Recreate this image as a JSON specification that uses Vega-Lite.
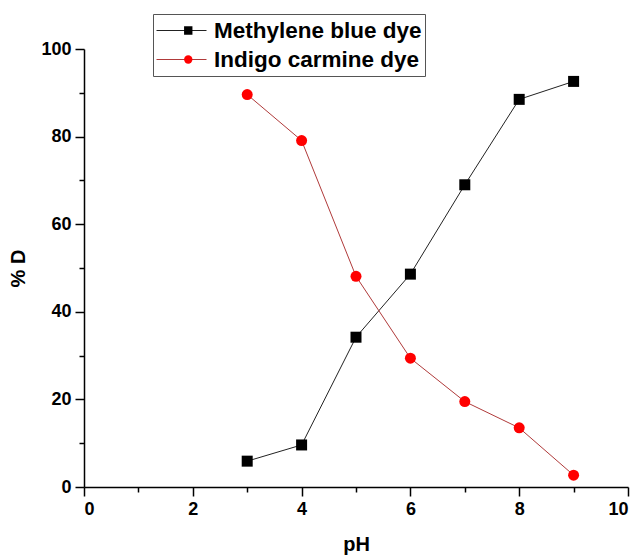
{
  "$schema": "https://vega.github.io/schema/vega-lite/v6.json",
  "width": 544,
  "height": 438,
  "autosize": {"type": "none"},
  "padding": {"left": 84, "top": 49, "right": 12, "bottom": 69},
  "background": "white",
  "config": {
    "font": "Liberation Sans",
    "view": {"stroke": null}
  },
  "data": {
    "values": [
      {"pH": 3, "D": 5.9, "dye": "Methylene blue dye"},
      {"pH": 4, "D": 9.6, "dye": "Methylene blue dye"},
      {"pH": 5, "D": 34.2, "dye": "Methylene blue dye"},
      {"pH": 6, "D": 48.6, "dye": "Methylene blue dye"},
      {"pH": 7, "D": 69.0, "dye": "Methylene blue dye"},
      {"pH": 8, "D": 88.5, "dye": "Methylene blue dye"},
      {"pH": 9, "D": 92.6, "dye": "Methylene blue dye"},
      {"pH": 3, "D": 89.6, "dye": "Indigo carmine dye"},
      {"pH": 4, "D": 79.1, "dye": "Indigo carmine dye"},
      {"pH": 5, "D": 48.1, "dye": "Indigo carmine dye"},
      {"pH": 6, "D": 29.4, "dye": "Indigo carmine dye"},
      {"pH": 7, "D": 19.5, "dye": "Indigo carmine dye"},
      {"pH": 8, "D": 13.5, "dye": "Indigo carmine dye"},
      {"pH": 9, "D": 2.7, "dye": "Indigo carmine dye"}
    ]
  },
  "encoding": {
    "x": {
      "field": "pH", "type": "quantitative",
      "scale": {"domain": [0, 10], "nice": false},
      "axis": {
        "title": "pH", "titleFontSize": 20, "titleFontWeight": "bold", "titleColor": "black", "titlePadding": 16,
        "values": [0,1,2,3,4,5,6,7,8,9,10],
        "labelExpr": "datum.value % 2 == 0 ? datum.label : ''",
        "labelFontSize": 18, "labelFontWeight": "bold", "labelColor": "black", "labelPadding": 4,
        "grid": false, "domainColor": "black", "domainWidth": 1.5,
        "tickColor": "black", "tickWidth": 1.5,
        "tickSize": {"condition": {"test": "datum.value % 2 == 0", "value": 9}, "value": 5}
      }
    },
    "y": {
      "field": "D", "type": "quantitative",
      "scale": {"domain": [0, 100], "nice": false},
      "axis": {
        "title": "% D", "titleFontSize": 20, "titleFontWeight": "bold", "titleColor": "black", "titlePadding": 12,
        "values": [0,10,20,30,40,50,60,70,80,90,100],
        "labelExpr": "datum.value % 20 == 0 ? datum.label : ''",
        "labelFontSize": 18, "labelFontWeight": "bold", "labelColor": "black", "labelPadding": 4,
        "grid": false, "domainColor": "black", "domainWidth": 1.5,
        "tickColor": "black", "tickWidth": 1.5,
        "tickSize": {"condition": {"test": "datum.value % 20 == 0", "value": 9}, "value": 5}
      }
    }
  },
  "layer": [
    {
      "mark": {"type": "line", "strokeWidth": 1},
      "encoding": {
        "stroke": {
          "field": "dye", "type": "nominal",
          "scale": {"domain": ["Methylene blue dye", "Indigo carmine dye"], "range": ["#222222", "#b03a3a"]},
          "legend": {
            "title": null, "orient": "none", "legendX": 69, "legendY": -35,
            "labelFontSize": 22.5, "labelFontWeight": "bold", "labelColor": "black", "labelLimit": 0,
            "symbolSize": 2500, "symbolStrokeWidth": 1, "labelOffset": 7,
            "symbolType": "M-1,0H1",
            "clipHeight": 27,
            "rowPadding": 2, "padding": 3, "strokeColor": "#555555"
          }
        }
      }
    },
    {
      "mark": {"type": "point", "filled": true, "opacity": 1, "size": 121},
      "encoding": {
        "color": {
          "field": "dye", "type": "nominal",
          "scale": {"domain": ["Methylene blue dye", "Indigo carmine dye", "other"], "range": ["#000000", "#ff0000", "#888888"]},
          "legend": {
            "title": null, "orient": "none", "legendX": 90, "legendY": -35,
            "values": ["Methylene blue dye", "Indigo carmine dye"],
            "labelExpr": "''",
            "labelFontSize": 22.5, "labelFontWeight": "bold", "labelOpacity": 0, "labelLimit": 0,
            "symbolSize": 70, "labelOffset": 7,
            "clipHeight": 27,
            "rowPadding": 2, "padding": 3
          }
        },
        "shape": {
          "field": "dye", "type": "nominal",
          "scale": {"domain": ["Methylene blue dye", "Indigo carmine dye", "other"], "range": ["square", "circle", "diamond"]}
        }
      }
    }
  ],
  "resolve": {"scale": {"color": "independent", "shape": "independent", "stroke": "independent"}}
}
